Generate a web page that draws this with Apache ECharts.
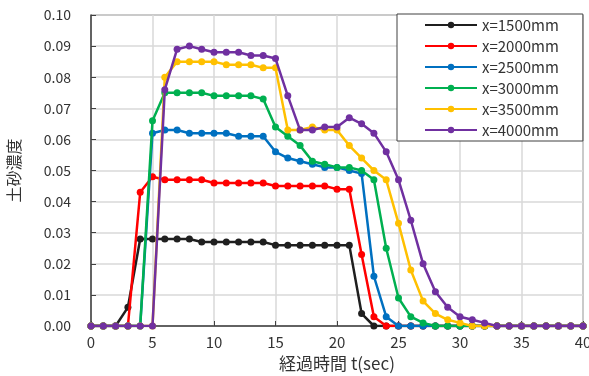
<!DOCTYPE html>
<html>
<head>
<meta charset="utf-8">
<script src="https://cdn.jsdelivr.net/npm/echarts@6/dist/echarts.min.js"></script>
<style>
html,body{margin:0;padding:0;background:#fff;}
#c{width:589px;height:376px;}
</style>
</head>
<body>
<div id="c"></div>
<script>
const times = [0,1,2,3,4,5,6,7,8,9,10,11,12,13,14,15,16,17,18,19,20,21,22,23,24,25,26,27,28,29,30,31,32,33,34,35,36,37,38,39,40];
const seriesNames = ['x=1500mm','x=2000mm','x=2500mm','x=3000mm','x=3500mm','x=4000mm'];
const s1500 = [0,0,0,0.006,0.028,0.028,0.028,0.028,0.028,0.027,0.027,0.027,0.027,0.027,0.027,0.026,0.026,0.026,0.026,0.026,0.026,0.026,0.004,0,0,0,0,0,0,0,0,0,0,0,0,0,0,0,0,0,0];
const s2000 = [0,0,0,0,0.043,0.048,0.047,0.047,0.047,0.047,0.046,0.046,0.046,0.046,0.046,0.045,0.045,0.045,0.045,0.045,0.044,0.044,0.023,0.003,0,0,0,0,0,0,0,0,0,0,0,0,0,0,0,0,0];
const s2500 = [0,0,0,0,0,0.062,0.063,0.063,0.062,0.062,0.062,0.062,0.061,0.061,0.061,0.056,0.054,0.053,0.052,0.051,0.051,0.050,0.049,0.016,0.003,0,0,0,0,0,0,0,0,0,0,0,0,0,0,0,0];
const s3000 = [0,0,0,0,0,0.066,0.075,0.075,0.075,0.075,0.074,0.074,0.074,0.074,0.073,0.064,0.061,0.058,0.053,0.052,0.051,0.051,0.050,0.047,0.025,0.009,0.003,0.001,0,0,0,0,0,0,0,0,0,0,0,0,0];
const s3500 = [0,0,0,0,0,0,0.080,0.085,0.085,0.085,0.085,0.084,0.084,0.084,0.083,0.083,0.063,0.063,0.064,0.063,0.063,0.058,0.054,0.050,0.047,0.033,0.018,0.008,0.004,0.002,0.001,0,0,0,0,0,0,0,0,0,0];
const s4000 = [0,0,0,0,0,0,0.076,0.089,0.090,0.089,0.088,0.088,0.088,0.087,0.087,0.086,0.074,0.063,0.063,0.064,0.064,0.067,0.065,0.062,0.056,0.047,0.034,0.020,0.011,0.006,0.003,0.002,0.001,0,0,0,0,0,0,0,0];
const colors = ['#1f1f1f','#ff0000','#0070c0','#00b050','#ffc000','#7030a0'];
const xTicks = [0,5,10,15,20,25,30,35,40];
const yTicks = [0,0.01,0.02,0.03,0.04,0.05,0.06,0.07,0.08,0.09,0.10];

const allData = [s1500,s2000,s2500,s3000,s3500,s4000];
const FONT = "'Noto Sans CJK JP','Noto Sans',sans-serif";
const chart = echarts.init(document.getElementById('c'), null, {renderer:'canvas'});
const series = allData.map((arr, i) => ({
  name: seriesNames[i],
  type: 'line',
  data: times.map((t, k) => [t, arr[k]]),
  symbol: 'circle',
  symbolSize: 7,
  showSymbol: true,
  color: colors[i],
  lineStyle: {width: 2.5, color: colors[i]},
  itemStyle: {color: colors[i]},
  animation: false,
  z: 2 + i
}));
chart.setOption({
  animation: false,
  textStyle: {fontFamily: FONT},
  grid: {left: 91, right: 6, top: 15, bottom: 50, containLabel: false, outerBoundsMode: 'none', show: true, borderColor: '#404040', borderWidth: 1, backgroundColor: '#fff'},
  legend: {
    orient: 'vertical', left: 397, top: 14,
    itemWidth: 52, itemHeight: 8, itemGap: 5,
    padding: [3, 24, 3, 27],
    borderColor: '#404040', borderWidth: 1, backgroundColor: '#fff',
    textStyle: {fontFamily: FONT, fontSize: 15, lineHeight: 16, color: '#333'},
    data: seriesNames, z: 10
  },
  xAxis: {
    type: 'value', min: xTicks[0], max: xTicks[xTicks.length-1], interval: 5,
    name: '経過時間 t(sec)', nameLocation: 'middle', nameGap: 28,
    nameTextStyle: {fontFamily: FONT, fontSize: 17, color: '#333'},
    axisLine: {show: true, lineStyle: {color: '#404040', width: 1.5}},
    axisTick: {show: true, inside: true, length: 5, lineStyle: {color: '#404040'}},
    axisLabel: {fontFamily: FONT, fontSize: 15, color: '#333', margin: 9},
    splitLine: {show: true, lineStyle: {color: '#d9d9d9', width: 1.5}}
  },
  yAxis: {
    type: 'value', min: yTicks[0], max: yTicks[yTicks.length-1], interval: 0.01,
    name: '土砂濃度', nameLocation: 'middle', nameGap: 69, nameRotate: 90,
    nameTextStyle: {fontFamily: FONT, fontSize: 16, color: '#333'},
    axisLine: {show: true, lineStyle: {color: '#404040', width: 1.5}},
    axisTick: {show: true, inside: true, length: 5, lineStyle: {color: '#404040'}},
    axisLabel: {fontFamily: FONT, fontSize: 14, color: '#333', margin: 20, formatter: v => v.toFixed(2)},
    splitLine: {show: true, lineStyle: {color: '#d9d9d9', width: 1.5}}
  },
  series: series
});
</script>
</body>
</html>
